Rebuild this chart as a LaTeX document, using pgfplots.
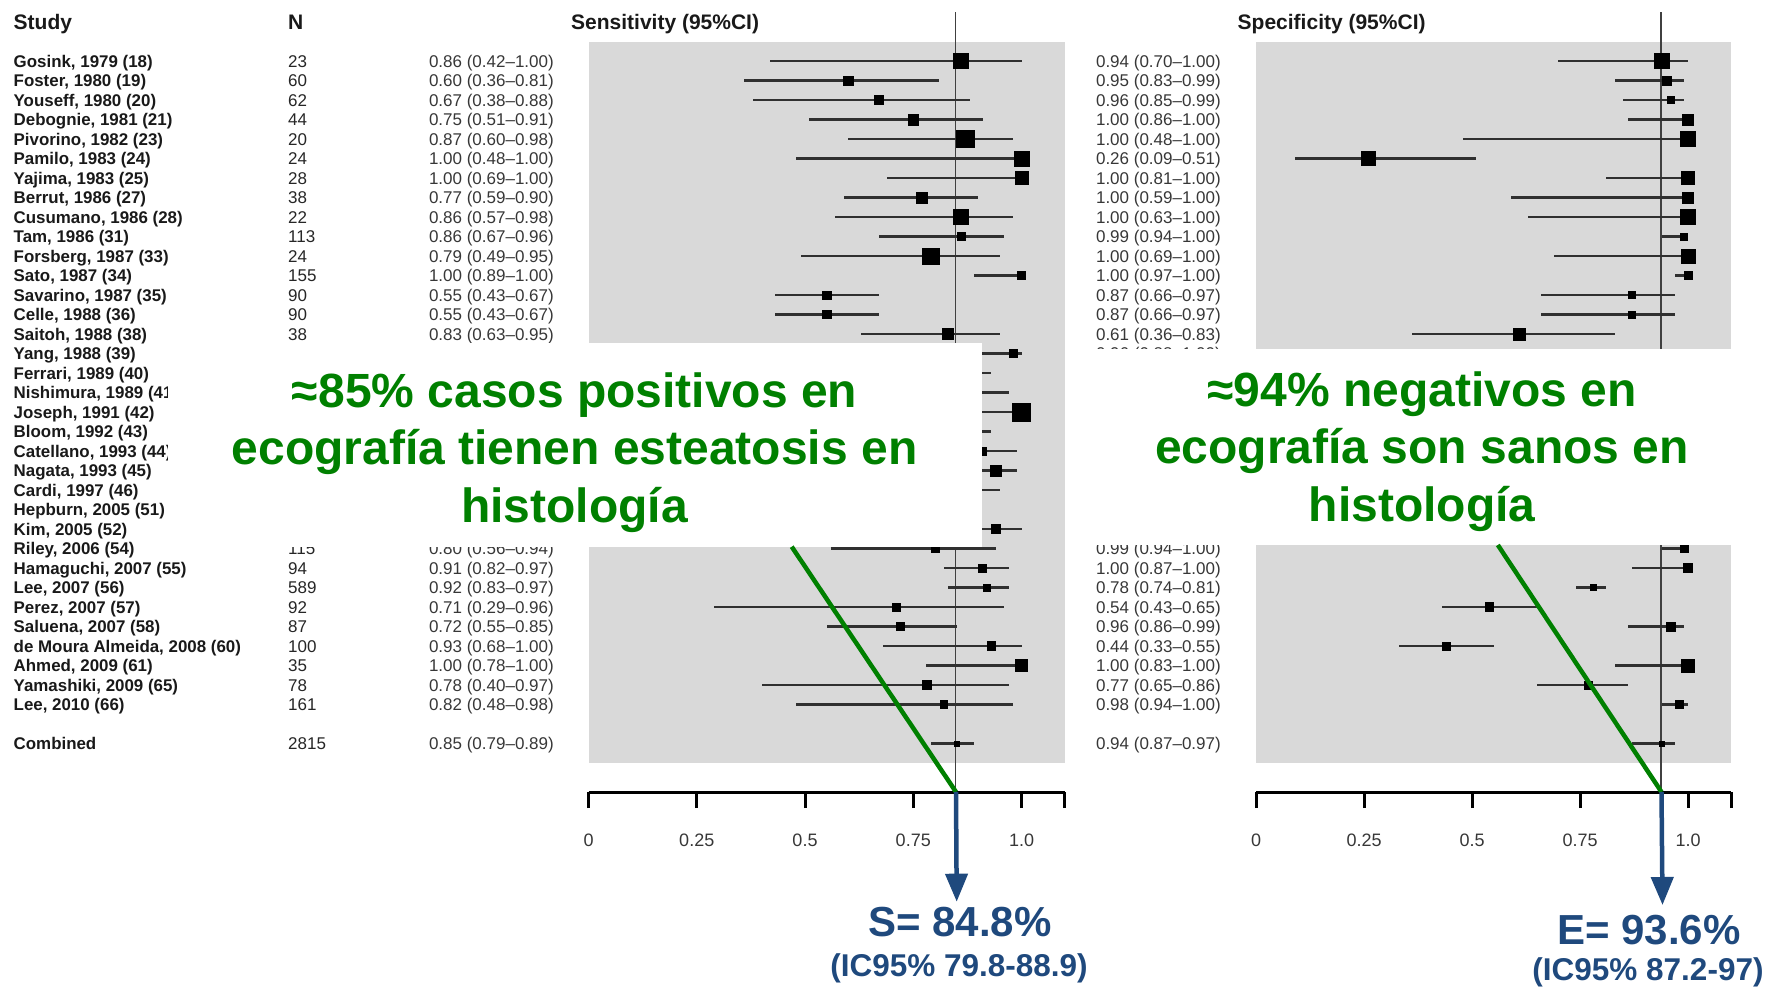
\documentclass[border=0pt]{standalone}
\usepackage{pgfplots}
\pgfplotsset{compat=1.18}
\usepackage{pgfplotstable}
\usepackage{fontspec}
\setmainfont{Liberation Sans}
\usetikzlibrary{arrows.meta}
\definecolor{panel}{RGB}{217,217,217}
\definecolor{cigray}{RGB}{48,48,48}
\definecolor{txtgray}{RGB}{55,55,55}
\definecolor{anngreen}{RGB}{0,128,0}
\definecolor{annblue}{RGB}{31,73,125}
\newcommand\namefont{\fontsize{16.9}{20}\selectfont\bfseries}
\newcommand\rowfont{\fontsize{17}{20}\selectfont}
\newcommand\headfont{\fontsize{21}{24}\selectfont\bfseries}
\newcommand\tickfont{\fontsize{18}{20}\selectfont}

\pgfplotstableread[col sep=semicolon]{
r;name;n;se;selo;sehi;sehs;setxt;sp;splo;sphi;sphs;sptxt
0;Gosink, 1979 (18);23;0.86;0.42;1.00;7.5;0.86 (0.42–1.00);0.94;0.70;1.00;7.5;0.94 (0.70–1.00)
1;Foster, 1980 (19);60;0.60;0.36;0.81;4.65;0.60 (0.36–0.81);0.95;0.83;0.99;4.5;0.95 (0.83–0.99)
2;Youseff, 1980 (20);62;0.67;0.38;0.88;4.5;0.67 (0.38–0.88);0.96;0.85;0.99;3.65;0.96 (0.85–0.99)
3;Debognie, 1981 (21);44;0.75;0.51;0.91;5.35;0.75 (0.51–0.91);1.00;0.86;1.00;5.35;1.00 (0.86–1.00)
4;Pivorino, 1982 (23);20;0.87;0.60;0.98;8.65;0.87 (0.60–0.98);1.00;0.48;1.00;7.5;1.00 (0.48–1.00)
5;Pamilo, 1983 (24);24;1.00;0.48;1.00;7.5;1.00 (0.48–1.00);0.26;0.09;0.51;7.15;0.26 (0.09–0.51)
6;Yajima, 1983 (25);28;1.00;0.69;1.00;6.65;1.00 (0.69–1.00);1.00;0.81;1.00;6.65;1.00 (0.81–1.00)
7;Berrut, 1986 (27);38;0.77;0.59;0.90;5.65;0.77 (0.59–0.90);1.00;0.59;1.00;5.35;1.00 (0.59–1.00)
8;Cusumano, 1986 (28);22;0.86;0.57;0.98;7.65;0.86 (0.57–0.98);1.00;0.63;1.00;7.5;1.00 (0.63–1.00)
9;Tam, 1986 (31);113;0.86;0.67;0.96;4.15;0.86 (0.67–0.96);0.99;0.94;1.00;3.65;0.99 (0.94–1.00)
10;Forsberg, 1987 (33);24;0.79;0.49;0.95;8.15;0.79 (0.49–0.95);1.00;0.69;1.00;7;1.00 (0.69–1.00)
11;Sato, 1987 (34);155;1.00;0.89;1.00;4;1.00 (0.89–1.00);1.00;0.97;1.00;4.15;1.00 (0.97–1.00)
12;Savarino, 1987 (35);90;0.55;0.43;0.67;4.15;0.55 (0.43–0.67);0.87;0.66;0.97;3.65;0.87 (0.66–0.97)
13;Celle, 1988 (36);90;0.55;0.43;0.67;4.15;0.55 (0.43–0.67);0.87;0.66;0.97;3.65;0.87 (0.66–0.97)
14;Saitoh, 1988 (38);38;0.83;0.63;0.95;5.5;0.83 (0.63–0.95);0.61;0.36;0.83;5.85;0.61 (0.36–0.83)
15;Yang, 1988 (39);{};0.98;0.88;1.00;3.85;{};0.96;0.88;1.00;3.85;0.96 (0.88–1.00)
16;Ferrari, 1989 (40);{};0.80;0.60;0.93;4;{};nan;nan;nan;4;{}
17;Nishimura, 1989 (41);{};0.86;0.70;0.97;4;{};nan;nan;nan;4;{}
18;Joseph, 1991 (42);{};1.00;0.63;1.00;9;{};nan;nan;nan;4;{}
19;Bloom, 1992 (43);{};0.79;0.60;0.93;4;{};nan;nan;nan;4;{}
20;Catellano, 1993 (44);{};0.91;0.78;0.99;4;{};nan;nan;nan;4;{}
21;Nagata, 1993 (45);{};0.94;0.83;0.99;5.35;{};nan;nan;nan;4;{}
22;Cardi, 1997 (46);{};0.82;0.62;0.95;4;{};nan;nan;nan;4;{}
23;Hepburn, 2005 (51);{};0.73;0.52;0.89;4;{};nan;nan;nan;4;{}
24;Kim, 2005 (52);{};0.94;0.81;1.00;4.5;{};nan;nan;nan;4;{}
25;Riley, 2006 (54);115;0.80;0.56;0.94;3.85;0.80 (0.56–0.94);0.99;0.94;1.00;4;0.99 (0.94–1.00)
26;Hamaguchi, 2007 (55);94;0.91;0.82;0.97;4.15;0.91 (0.82–0.97);1.00;0.87;1.00;4.5;1.00 (0.87–1.00)
27;Lee, 2007 (56);589;0.92;0.83;0.97;3.35;0.92 (0.83–0.97);0.78;0.74;0.81;2.85;0.78 (0.74–0.81)
28;Perez, 2007 (57);92;0.71;0.29;0.96;3.85;0.71 (0.29–0.96);0.54;0.43;0.65;4.35;0.54 (0.43–0.65)
29;Saluena, 2007 (58);87;0.72;0.55;0.85;4.15;0.72 (0.55–0.85);0.96;0.86;0.99;4.5;0.96 (0.86–0.99)
30;de Moura Almeida, 2008 (60);100;0.93;0.68;1.00;4.35;0.93 (0.68–1.00);0.44;0.33;0.55;4.15;0.44 (0.33–0.55)
31;Ahmed, 2009 (61);35;1.00;0.78;1.00;5.85;1.00 (0.78–1.00);1.00;0.83;1.00;6.35;1.00 (0.83–1.00)
32;Yamashiki, 2009 (65);78;0.78;0.40;0.97;4.5;0.78 (0.40–0.97);0.77;0.65;0.86;4;0.77 (0.65–0.86)
33;Lee, 2010 (66);161;0.82;0.48;0.98;3.85;0.82 (0.48–0.98);0.98;0.94;1.00;4.15;0.98 (0.94–1.00)
35;Combined;2815;0.85;0.79;0.89;2.5;0.85 (0.79–0.89);0.94;0.87;0.97;2.5;0.94 (0.87–0.97)
}\data

\pgfplotsset{
  forestaxis/.style={
    anchor=south west,
    scale only axis, height=792pt,
    xmin=0, xmax=1.1, ymin=-37.487, ymax=3.128,
    clip=false,
    axis y line=none,
    axis x line*=bottom,
    x axis line style={-, line width=3pt, black},
    every outer x axis line/.append style={-},
    xtick={0,0.25,0.5,0.75,1,1.1},
    xticklabels={0,0.25,0.5,0.75,1.0,{}},
    tick align=outside,
    major tick length=16pt,
    tick style={black, line width=3pt},
    xticklabel style={font=\tickfont, text=txtgray, yshift=-22pt},
  }
}

\begin{document}
\begin{tikzpicture}
\path[use as bounding box] (0pt,0pt) rectangle (1766pt,988pt);

% ---------- Sensitivity ----------
\begin{axis}[forestaxis, at={(588.5pt,196pt)}, width=476.3pt]
\addplot[fill=panel, draw=none] coordinates {(0,0.974) (1.1,0.974) (1.1,-36) (0,-36)} -- cycle;
\addplot[draw=black!75, line width=1.6pt] coordinates {(0.848,2.51) (0.848,-37.487)};
\addplot[draw=none, mark=none,
  error bars/.cd, x dir=both, x explicit, error mark=none,
  error bar style={draw=cigray, line width=2.3pt}]
  table[x=se, y expr=-\thisrow{r}, x error plus expr=\thisrow{sehi}-\thisrow{se}, x error minus expr=\thisrow{se}-\thisrow{selo}] \data;
\addplot[scatter, only marks, mark=square*,
  scatter/use mapped color={draw=none, fill=black},
  visualization depends on={\thisrow{sehs} \as \msz},
  scatter/@pre marker code/.append style={/tikz/mark size=\msz}]
  table[x=se, y expr=-\thisrow{r}, meta=sehs] \data;
\end{axis}

% ---------- Specificity ----------
\begin{axis}[forestaxis, at={(1256pt,196pt)}, width=475.2pt]
\addplot[fill=panel, draw=none] coordinates {(0,0.974) (1.1,0.974) (1.1,-36) (0,-36)} -- cycle;
\addplot[draw=black!75, line width=1.6pt] coordinates {(0.938,2.51) (0.938,-37.487)};
\addplot[draw=none, mark=none,
  error bars/.cd, x dir=both, x explicit, error mark=none,
  error bar style={draw=cigray, line width=2.3pt}]
  table[x=sp, y expr=-\thisrow{r}, x error plus expr=\thisrow{sphi}-\thisrow{sp}, x error minus expr=\thisrow{sp}-\thisrow{splo}] \data;
\addplot[scatter, only marks, mark=square*,
  scatter/use mapped color={draw=none, fill=black},
  visualization depends on={\thisrow{sphs} \as \msz},
  scatter/@pre marker code/.append style={/tikz/mark size=\msz}]
  table[x=sp, y expr=-\thisrow{r}, meta=sphs] \data;
\end{axis}

% ---------- headers ----------
\node[anchor=base west, inner sep=0pt, font=\headfont, text=black!90] at (13.5pt,958pt) {Study};
\node[anchor=base west, inner sep=0pt, font=\headfont, text=black!90] at (288pt,958pt) {N};
\node[anchor=base west, inner sep=0pt, font=\headfont, text=black!90] at (571pt,958pt) {Sensitivity (95\%CI)};
\node[anchor=base west, inner sep=0pt, font=\headfont, text=black!90] at (1237.5pt,958pt) {Specificity (95\%CI)};

% ---------- table text ----------
\pgfplotstablegetrowsof{\data}
\pgfmathtruncatemacro\lastrow{\pgfplotsretval-1}
\foreach \i in {0,...,\lastrow}{%
  \pgfplotstablegetelem{\i}{r}\of{\data}%
  \pgfmathsetmacro\yb{988-61-19.5*\pgfplotsretval-6.1}%
  \pgfplotstablegetelem{\i}{name}\of{\data}%
  \node[anchor=base west, inner sep=0pt, font=\namefont, text=black!90] at (13.5pt,\yb pt) {\pgfplotsretval};%
  \pgfplotstablegetelem{\i}{n}\of{\data}%
  \node[anchor=base west, inner sep=0pt, font=\rowfont, text=black!85] at (288pt,\yb pt) {\pgfplotsretval};%
  \pgfplotstablegetelem{\i}{setxt}\of{\data}%
  \node[anchor=base east, inner sep=0pt, font=\rowfont, text=txtgray] at (554pt,\yb pt) {\pgfplotsretval};%
  \pgfplotstablegetelem{\i}{sptxt}\of{\data}%
  \node[anchor=base east, inner sep=0pt, font=\rowfont, text=txtgray] at (1221pt,\yb pt) {\pgfplotsretval};%
}

% ---------- annotation boxes ----------
\fill[white] (167.6pt,645pt) rectangle (981.7pt,441.3pt);
\fill[white] (1070pt,639pt) rectangle (1740pt,443pt);

\begin{scope}[every node/.style={anchor=base, inner sep=0pt, text=anngreen, font=\fontsize{48}{56}\selectfont\bfseries}]
\node at (574.6pt,580pt) {≈85\% casos positivos en};
\node at (574.6pt,523pt) {ecografía tienen esteatosis en};
\node at (574.6pt,465pt) {histología};
\node at (1422pt,581.3pt) {≈94\% negativos en};
\node at (1422pt,524pt) {ecografía son sanos en};
\node at (1422pt,466.3pt) {histología};
\end{scope}

\draw[anngreen, line width=4.5pt] (791.7pt,441.3pt) -- (956pt,196pt);
\draw[anngreen, line width=4.5pt] (1497.8pt,443pt) -- (1661.5pt,196pt);

\draw[annblue, line width=4.5pt, -{Triangle[length=28pt, width=22pt]}] (956pt,196pt) -- (956.7pt,86.3pt);
\draw[annblue, line width=4.5pt, -{Triangle[length=28pt, width=22pt]}] (1661.5pt,196pt) -- (1662.5pt,83pt);

\node[anchor=base, inner sep=0pt, text=annblue, font=\fontsize{42}{48}\selectfont\bfseries] at (960pt,51.3pt) {S= 84.8\%};
\node[anchor=base, inner sep=0pt, text=annblue, font=\fontsize{31.5}{36}\selectfont\bfseries] at (959pt,11.3pt) {(IC95\% 79.8-88.9)};
\node[anchor=base, inner sep=0pt, text=annblue, font=\fontsize{42}{48}\selectfont\bfseries] at (1649pt,44pt) {E= 93.6\%};
\node[anchor=base, inner sep=0pt, text=annblue, font=\fontsize{31.5}{36}\selectfont\bfseries] at (1648pt,8pt) {(IC95\% 87.2-97)};
\end{tikzpicture}
\end{document}
